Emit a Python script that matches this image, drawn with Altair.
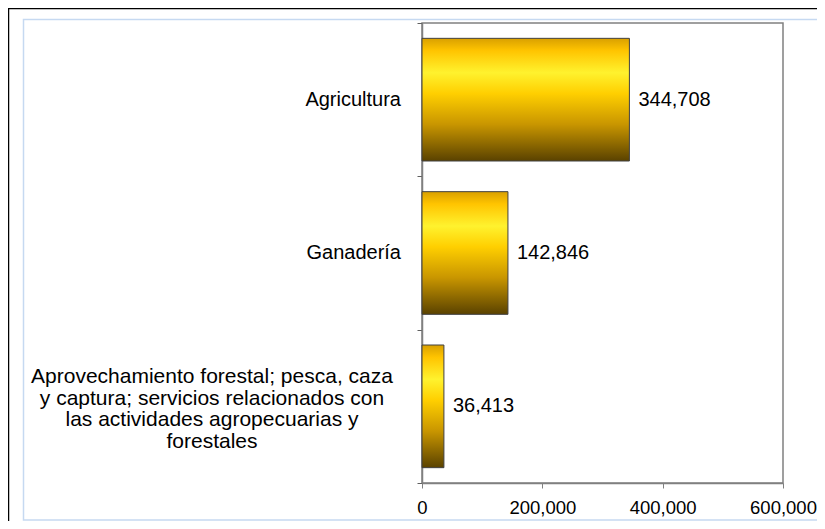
import altair as alt
import pandas as pd

categories = [
    "Agricultura",
    "Ganadería",
    "Aprovechamiento forestal; pesca, caza\ny captura; servicios relacionados con\nlas actividades agropecuarias y\nforestales",
]
values = [344708, 142846, 36413]
x_ticks = [0, 200000, 400000, 600000]

df = pd.DataFrame({"cat": categories, "value": values, "idx": list(range(len(categories)))})

FONT = "Liberation Sans"
FS = 20
LEFT = 414

grad = alt.Gradient(
    gradient="linear",
    x1=0, x2=0, y1=0, y2=1,
    stops=[
        alt.GradientStop(color="#D9A000", offset=0),
        alt.GradientStop(color="#FFC400", offset=0.1),
        alt.GradientStop(color="#FFF22E", offset=0.28),
        alt.GradientStop(color="#FFCF00", offset=0.45),
        alt.GradientStop(color="#C99600", offset=0.7),
        alt.GradientStop(color="#5A4200", offset=1),
    ],
)

y_enc = alt.Y(
    "cat:N",
    sort=categories,
    title=None,
    scale=alt.Scale(paddingInner=0, paddingOuter=0),
    axis=alt.Axis(
        labels=False,
        tickBand="extent",
        tickSize=5,
        tickColor="#606060",
        domainColor="#808080",
        domainWidth=1.5,
    ),
)
x_enc = alt.X(
    "value:Q",
    title=None,
    scale=alt.Scale(domain=[0, 600000], nice=False),
    axis=alt.Axis(
        values=x_ticks,
        format=",.0f",
        grid=False,
        tickSize=5,
        tickColor="#808080",
        domainColor="#808080",
        domainWidth=1.5,
        labelFont=FONT,
        labelFontSize=18.5,
        labelColor="#000000",
        labelPadding=10,
        labelFlush=False,
    ),
)

base = alt.Chart(df)

bars = base.mark_bar(
    color=grad, stroke="#404040", strokeWidth=1, height={"band": 0.8}
).encode(x=x_enc, y=y_enc)

vals = base.mark_text(
    align="left", baseline="middle", dx=9, font=FONT, fontSize=FS, color="#000000"
).encode(x="value:Q", y=alt.Y("cat:N", sort=categories), text=alt.Text("value:Q", format=",.0f"))

lab_single = base.transform_filter("datum.idx < 2").mark_text(
    align="right", baseline="middle", font=FONT, fontSize=FS, color="#000000"
).encode(x=alt.value(-21), y=alt.Y("cat:N", sort=categories), text="cat:N")

lab_multi = base.transform_filter("datum.idx >= 2").mark_text(
    align="center", baseline="middle", font=FONT, fontSize=21, color="#000000",
    lineBreak="\n", lineHeight=21.5, dy=-29,
).encode(x=alt.value(-(LEFT - 204)), y=alt.Y("cat:N", sort=categories), text="cat:N")

one = alt.Chart(pd.DataFrame({"k": [0]}))
outer = one.mark_rect(filled=False, stroke="#000000", strokeWidth=1.5).encode(
    x=alt.value(-(LEFT - 0.5)), x2=alt.value(600), y=alt.value(-14.5), y2=alt.value(700)
)
inner = one.mark_rect(filled=False, stroke="#C6D9F1", strokeWidth=1.5).encode(
    x=alt.value(-(LEFT - 15.5)), x2=alt.value(600), y=alt.value(-3.5), y2=alt.value(497)
)

chart = (
    alt.layer(outer, inner, bars, vals, lab_single, lab_multi)
    .properties(
        width=361,
        height=460,
        autosize=alt.AutoSizeParams(type="none"),
        padding={"left": LEFT, "top": 15, "right": 809 - LEFT - 361, "bottom": 38},
    )
    .configure_view(stroke="#808080", strokeWidth=1.5)
)

chart.save("out.html", embed_options={"renderer": "svg", "actions": False})
